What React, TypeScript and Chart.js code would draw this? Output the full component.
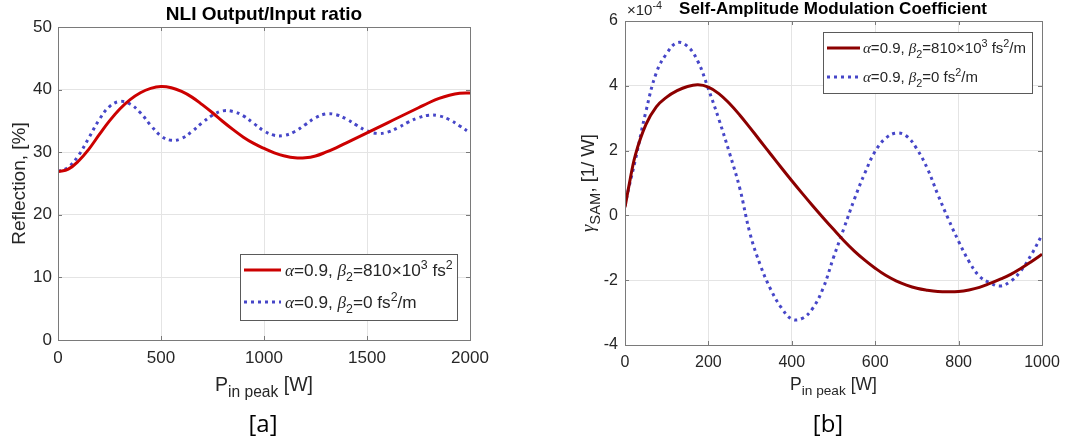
import React, { useEffect, useRef } from 'react';
import { Chart, registerables } from 'chart.js';

Chart.register(...registerables);

// ---------------- DATA ----------------
// Panel [a]: NLI Output/Input ratio (Reflection, %) vs peak input power (W)
const leftPower = [
  0, 50, 100, 150, 200, 250, 300, 350, 400, 450, 500, 550, 600, 650, 700, 750, 800, 850, 900, 950,
  1000, 1050, 1100, 1150, 1200, 1250, 1300, 1350, 1400, 1450, 1500, 1550, 1600, 1650, 1700, 1750,
  1800, 1850, 1900, 1950, 2000,
];
const leftRedReflection = [
  26.9, 27.3, 28.6, 30.5, 32.8, 35.0, 36.9, 38.4, 39.5, 40.2, 40.5, 40.3, 39.7, 38.8, 37.6, 36.3,
  34.9, 33.6, 32.4, 31.4, 30.6, 29.9, 29.4, 29.1, 29.1, 29.4, 30.0, 30.7, 31.5, 32.3, 33.1, 33.9,
  34.7, 35.5, 36.3, 37.1, 37.9, 38.6, 39.1, 39.4, 39.45,
];
const leftBlueReflection = [
  26.9, 27.6, 29.5, 32.3, 35.2, 37.3, 38.1, 37.7, 36.3, 34.3, 32.6, 31.9, 32.2, 33.3, 34.7, 35.9,
  36.6, 36.5, 35.8, 34.6, 33.4, 32.7, 32.7, 33.3, 34.4, 35.5, 36.1, 36.0, 35.3, 34.3, 33.4, 33.0,
  33.2, 33.9, 34.8, 35.5, 35.9, 35.8, 35.2, 34.2, 33.1,
];
const leftXTicks = [0, 500, 1000, 1500, 2000];
const leftYTicks = [0, 10, 20, 30, 40, 50];

// Panel [b]: Self-amplitude modulation coefficient (x 1e-4, 1/W) vs peak input power (W)
const rightPower = [
  0, 10, 25, 50, 75, 100, 125, 150, 175, 200, 225, 250, 275, 300, 325, 350, 375, 400, 425, 450, 475,
  500, 525, 550, 575, 600, 625, 650, 675, 700, 725, 750, 775, 800, 825, 850, 875, 900, 925, 950, 975,
  1000,
];
const rightRedGamma = [
  0.25, 0.95, 1.87, 2.8, 3.35, 3.65, 3.85, 3.98, 4.03, 3.96, 3.76, 3.46, 3.1, 2.7, 2.29, 1.88, 1.47,
  1.07, 0.68, 0.3, -0.07, -0.43, -0.78, -1.1, -1.38, -1.63, -1.85, -2.02, -2.15, -2.25, -2.31, -2.35,
  -2.36, -2.35, -2.3, -2.22, -2.1, -1.97, -1.82, -1.63, -1.42, -1.2,
];
const rightBlueGamma = [
  0.3, 0.9, 1.72, 3.2, 4.4, 5.0, 5.33, 5.22, 4.75, 3.9, 2.97, 1.95, 0.85, -0.57, -1.55, -2.3, -2.85,
  -3.2, -3.18, -2.87, -2.25, -1.3, -0.4, 0.5, 1.3, 1.98, 2.38, 2.54, 2.45, 2.05, 1.45, 0.65, -0.1,
  -0.8, -1.42, -1.88, -2.08, -2.18, -2.03, -1.7, -1.2, -0.6,
];
const rightXTicks = [0, 200, 400, 600, 800, 1000];
const rightYTicks = [-4, -2, 0, 2, 4, 6];

// ---------------- STYLE HELPERS ----------------
const SANS = '"Liberation Sans", Arial, Helvetica, sans-serif';
const SERIF = '"Liberation Serif", "DejaVu Serif", serif';
const TXT = '#262626';
const GRID = '#e4e4e4';
const BOX = '#7a7a7a';

type Run = { t: string; sub?: boolean; sup?: boolean; math?: boolean; bold?: boolean; sc?: number };

function fontFor(r: Run, size: number) {
  const s = r.sub || r.sup ? size * (r.sc ?? 0.72) : size;
  const fam = r.math ? SERIF : SANS;
  return `${r.math ? 'italic ' : ''}${r.bold ? 'bold ' : ''}${s}px ${fam}`;
}

function drawRich(
  ctx: CanvasRenderingContext2D,
  runs: Run[],
  x: number,
  y: number,
  size: number,
  align: 'left' | 'center',
  color: string,
  rotate = false,
) {
  ctx.save();
  ctx.translate(x, y);
  if (rotate) ctx.rotate(-Math.PI / 2);
  ctx.fillStyle = color;
  ctx.textBaseline = 'alphabetic';
  ctx.textAlign = 'left';
  const widths = runs.map((r) => {
    ctx.font = fontFor(r, size);
    return ctx.measureText(r.t).width;
  });
  const total = widths.reduce((a, b) => a + b, 0);
  let cx = align === 'center' ? -total / 2 : 0;
  runs.forEach((r, i) => {
    ctx.font = fontFor(r, size);
    const dy = r.sub ? size * 0.3 : r.sup ? -size * 0.42 : 0;
    ctx.fillText(r.t, cx, dy);
    cx += widths[i];
  });
  ctx.restore();
}

type LegendItem = { color: string; dash: number[]; runs: Run[] };
type PanelCfg = {
  title: string;
  titleSize: number;
  titleX: number;
  titleY: number;
  yLabel: Run[];
  yLabelX: number;
  yLabelSize: number;
  xLabel: Run[];
  xLabelY: number;
  xLabelSize: number;
  panel: string;
  panelX: number;
  exponent?: boolean;
  legendBox: [number, number, number, number];
  legendRows: number[];
  legendSample: [number, number];
  legendTextX: number;
  legendSize: number;
  legendItems: LegendItem[];
};

function makePlugin(cfg: PanelCfg) {
  return {
    id: 'matlabDecor',
    afterDraw(chart: any) {
      const ctx: CanvasRenderingContext2D = chart.ctx;
      const a = chart.chartArea;
      const xs = chart.scales.x;
      const ys = chart.scales.y;
      ctx.save();
      // box
      ctx.strokeStyle = BOX;
      ctx.lineWidth = 1;
      ctx.strokeRect(Math.round(a.left) + 0.5, Math.round(a.top) + 0.5, Math.round(a.right - a.left), Math.round(a.bottom - a.top));
      // inner ticks
      ctx.beginPath();
      xs.ticks.forEach((t: any) => {
        const px = Math.round(xs.getPixelForValue(t.value)) + 0.5;
        ctx.moveTo(px, a.bottom);
        ctx.lineTo(px, a.bottom - 4);
        ctx.moveTo(px, a.top);
        ctx.lineTo(px, a.top + 4);
      });
      ys.ticks.forEach((t: any) => {
        const py = Math.round(ys.getPixelForValue(t.value)) + 0.5;
        ctx.moveTo(a.left, py);
        ctx.lineTo(a.left + 4, py);
        ctx.moveTo(a.right, py);
        ctx.lineTo(a.right - 4, py);
      });
      ctx.stroke();

      // title
      drawRich(ctx, [{ t: cfg.title, bold: true }], cfg.titleX, cfg.titleY, cfg.titleSize, 'center', '#000');
      // exponent
      if (cfg.exponent) {
        drawRich(ctx, [{ t: '×10' }, { t: '-4', sup: true }], a.left + 2, 15, 15, 'left', TXT);
      }
      // axis labels
      const cy = (a.top + a.bottom) / 2;
      const cx = (a.left + a.right) / 2;
      drawRich(ctx, cfg.yLabel, cfg.yLabelX, cy, cfg.yLabelSize, 'center', TXT, true);
      drawRich(ctx, cfg.xLabel, cx, cfg.xLabelY, cfg.xLabelSize, 'center', TXT);
      // panel label
      ctx.fillStyle = '#000';
      ctx.font = `24px "Open Sans", "Noto Sans", sans-serif`;
      ctx.textAlign = 'center';
      ctx.textBaseline = 'alphabetic';
      ctx.fillText(cfg.panel, cfg.panelX, 432);

      // legend
      const [lx1, ly1, lx2, ly2] = cfg.legendBox;
      ctx.fillStyle = '#fff';
      ctx.fillRect(lx1, ly1, lx2 - lx1, ly2 - ly1);
      ctx.strokeStyle = '#5a5a5a';
      ctx.lineWidth = 1;
      ctx.strokeRect(lx1 + 0.5, ly1 + 0.5, lx2 - lx1, ly2 - ly1);
      cfg.legendItems.forEach((it, i) => {
        const ry = cfg.legendRows[i];
        ctx.save();
        ctx.strokeStyle = it.color;
        ctx.lineWidth = 3;
        ctx.setLineDash(it.dash);
        ctx.beginPath();
        ctx.moveTo(cfg.legendSample[0], ry);
        ctx.lineTo(cfg.legendSample[1], ry);
        ctx.stroke();
        ctx.restore();
        drawRich(ctx, it.runs, cfg.legendTextX, ry + cfg.legendSize * 0.36, cfg.legendSize, 'left', TXT);
      });
      ctx.restore();
    },
  };
}

function scaleOpts(min: number, max: number, tickVals: number[], size: number, axis: 'x' | 'y', fitSize: number, pad: number) {
  return {
    type: 'linear' as const,
    min,
    max,
    afterBuildTicks: (s: any) => {
      s.ticks = tickVals.map((v) => ({ value: v }));
    },
    afterFit: (s: any) => {
      if (axis === 'y') s.width = fitSize;
      else s.height = fitSize;
    },
    ticks: {
      autoSkip: false,
      maxRotation: 0,
      minRotation: 0,
      padding: pad,
      color: TXT,
      font: { family: SANS, size },
      callback: (v: any) => String(v),
    },
    grid: { color: GRID, lineWidth: 1, drawTicks: false },
    border: { display: false },
  };
}

const alphaRun: Run = { t: 'α', math: true };
const betaRun: Run = { t: 'β', math: true };

export default function App() {
  const leftRef = useRef<HTMLCanvasElement>(null);
  const rightRef = useRef<HTMLCanvasElement>(null);

  useEffect(() => {
    const leftCfg: PanelCfg = {
      title: 'NLI Output/Input ratio',
      titleSize: 19,
      titleX: 264,
      titleY: 20,
      yLabel: [{ t: 'Reflection, [%]' }],
      yLabelX: 25,
      yLabelSize: 19,
      xLabel: [{ t: 'P' }, { t: 'in peak', sub: true, sc: 0.8 }, { t: ' [W]' }],
      xLabelY: 391,
      xLabelSize: 19.5,
      panel: '[a]',
      panelX: 263,
      legendBox: [240, 254, 457, 320],
      legendRows: [270, 302],
      legendSample: [244, 281],
      legendTextX: 285,
      legendSize: 17.2,
      legendItems: [
        {
          color: 'rgb(204,0,0)',
          dash: [],
          runs: [alphaRun, { t: '=0.9, ' }, betaRun, { t: '2', sub: true }, { t: '=810×10' }, { t: '3', sup: true }, { t: ' fs' }, { t: '2', sup: true }],
        },
        {
          color: 'rgb(70,70,200)',
          dash: [3, 4],
          runs: [alphaRun, { t: '=0.9, ' }, betaRun, { t: '2', sub: true }, { t: '=0 fs' }, { t: '2', sup: true }, { t: '/m' }],
        },
      ],
    };
    const rightCfg: PanelCfg = {
      title: 'Self-Amplitude Modulation Coefficient',
      titleSize: 17,
      titleX: 293,
      titleY: 14,
      yLabel: [{ t: 'γ', math: true }, { t: 'SAM', sub: true, sc: 0.8 }, { t: ', [1/ W]' }],
      yLabelX: 54,
      yLabelSize: 18.5,
      xLabel: [{ t: 'P' }, { t: 'in peak', sub: true, sc: 0.78 }, { t: ' [W]' }],
      xLabelY: 390,
      xLabelSize: 17.5,
      panel: '[b]',
      panelX: 288,
      exponent: true,
      legendBox: [283, 32, 492, 93],
      legendRows: [48, 77],
      legendSample: [287, 320],
      legendTextX: 323,
      legendSize: 15,
      legendItems: [
        {
          color: 'rgb(140,0,0)',
          dash: [],
          runs: [alphaRun, { t: '=0.9, ' }, betaRun, { t: '2', sub: true }, { t: '=810×10' }, { t: '3', sup: true }, { t: ' fs' }, { t: '2', sup: true }, { t: '/m' }],
        },
        {
          color: 'rgb(70,70,200)',
          dash: [3, 4],
          runs: [alphaRun, { t: '=0.9, ' }, betaRun, { t: '2', sub: true }, { t: '=0 fs' }, { t: '2', sup: true }, { t: '/m' }],
        },
      ],
    };

    const ds = (xs: number[], ys: number[], color: string, dash: number[]) => ({
      data: xs.map((x, i) => ({ x, y: ys[i] })),
      borderColor: color,
      backgroundColor: color,
      borderWidth: 3,
      borderDash: dash,
      pointRadius: 0,
      tension: 0.4,
      fill: false,
    });

    const left = new Chart(leftRef.current!, {
      type: 'line',
      data: {
        datasets: [
          ds(leftPower, leftRedReflection, 'rgb(204,0,0)', []),
          ds(leftPower, leftBlueReflection, 'rgb(70,70,200)', [3, 4]),
        ],
      },
      options: {
        responsive: false,
        animation: false,
        devicePixelRatio: 1,
        layout: { padding: { left: 18, right: 70, top: 27, bottom: 74 } },
        plugins: { legend: { display: false }, tooltip: { enabled: false } },
        scales: {
          x: scaleOpts(0, 2000, leftXTicks, 17, 'x', 30, 8),
          y: scaleOpts(0, 50, leftYTicks, 17, 'y', 40, 6),
        },
      } as any,
      plugins: [makePlugin(leftCfg)],
    });

    const right = new Chart(rightRef.current!, {
      type: 'line',
      data: {
        datasets: [
          ds(rightPower, rightRedGamma, 'rgb(140,0,0)', []),
          ds(rightPower, rightBlueGamma, 'rgb(70,70,200)', [3, 4]),
        ],
      },
      options: {
        responsive: false,
        animation: false,
        devicePixelRatio: 1,
        layout: { padding: { left: 45, right: 34, top: 21, bottom: 69 } },
        plugins: { legend: { display: false }, tooltip: { enabled: false } },
        scales: {
          x: scaleOpts(0, 1000, rightXTicks, 16, 'x', 30, 8),
          y: scaleOpts(-4, 6, rightYTicks, 16, 'y', 40, 7),
        },
      } as any,
      plugins: [makePlugin(rightCfg)],
    });

    return () => {
      left.destroy();
      right.destroy();
    };
  }, []);

  return (
    <div style={{ position: 'fixed', left: 0, top: 0, width: 1076, height: 444, background: '#fff' }}>
      <canvas ref={leftRef} width={540} height={444} style={{ position: 'absolute', left: 0, top: 0, width: 540, height: 444 }} />
      <canvas ref={rightRef} width={536} height={444} style={{ position: 'absolute', left: 540, top: 0, width: 536, height: 444 }} />
    </div>
  );
}
